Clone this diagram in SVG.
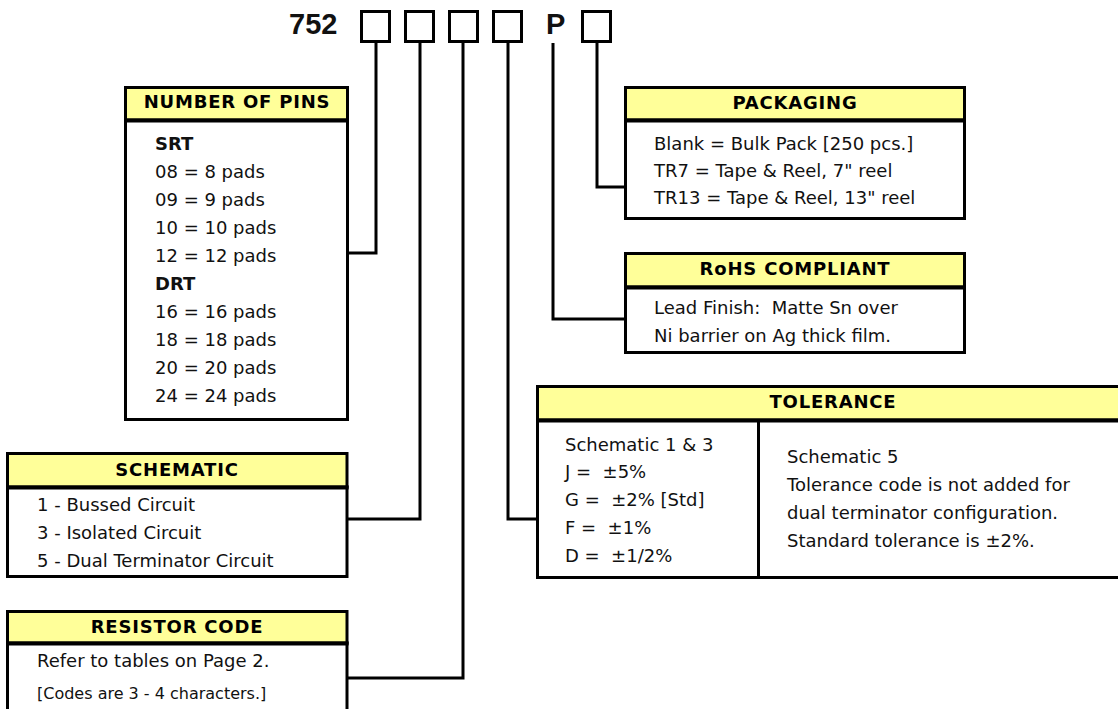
<svg xmlns="http://www.w3.org/2000/svg" width="1118" height="709" viewBox="0 0 1118 709">
<style>
.box{fill:#fff;stroke:#000;stroke-width:3}
.hdr{fill:#FFFF99;stroke:#000;stroke-width:3}
.sep{stroke:#000;stroke-width:4}
.slot{fill:#fff;stroke:#000;stroke-width:3}
.conn{fill:none;stroke:#000;stroke-width:3;stroke-linejoin:miter}
.h{font-family:"DejaVu Sans",sans-serif;font-weight:bold;font-size:18px;letter-spacing:0.8px;text-anchor:middle;fill:#000}
.t{font-family:"DejaVu Sans",sans-serif;font-size:18px;fill:#111;white-space:pre}
.tb{font-family:"DejaVu Sans",sans-serif;font-size:18px;font-weight:bold;fill:#111}
.ts{font-family:"DejaVu Sans",sans-serif;font-size:16px;fill:#111}
.big{font-family:"Liberation Sans",Arial,sans-serif;font-weight:bold;font-size:29px;fill:#111}
</style>
<rect width="1118" height="709" fill="#fff"/>

<g id="partnumber">
<text class="big" x="289" y="34">752</text>
<rect class="slot" x="361.5" y="11.5" width="28" height="30"/>
<rect class="slot" x="405.5" y="11.5" width="28" height="30"/>
<rect class="slot" x="449.5" y="11.5" width="28" height="30"/>
<rect class="slot" x="493.5" y="11.5" width="28" height="30"/>
<text class="big" x="546" y="34">P</text>
<rect class="slot" x="582.5" y="11.5" width="28" height="30"/>
</g>

<g id="connectors">
<polyline class="conn" points="376,42 376,253 348,253"/>
<polyline class="conn" points="420,42 420,519 347,519"/>
<polyline class="conn" points="463,42 463,678 347,678"/>
<polyline class="conn" points="508,42 508,519 537,519"/>
<polyline class="conn" points="553,43 553,319 625,319"/>
<polyline class="conn" points="597,42 597,187 625,187"/>
</g>

<g id="number-of-pins">
<rect class="box" x="125.5" y="120" width="222" height="299.5"/>
<rect class="hdr" x="125.5" y="87.5" width="222" height="32.5"/>
<line class="sep" x1="124" y1="120.5" x2="349" y2="120.5"/>
<text class="h" x="237" y="108">NUMBER OF PINS</text>
<text class="tb" x="155" y="150">SRT</text>
<text class="t" x="155" y="178">08 = 8 pads</text>
<text class="t" x="155" y="206">09 = 9 pads</text>
<text class="t" x="155" y="234">10 = 10 pads</text>
<text class="t" x="155" y="262">12 = 12 pads</text>
<text class="tb" x="155" y="290">DRT</text>
<text class="t" x="155" y="318">16 = 16 pads</text>
<text class="t" x="155" y="346">18 = 18 pads</text>
<text class="t" x="155" y="374">20 = 20 pads</text>
<text class="t" x="155" y="402">24 = 24 pads</text>
</g>

<g id="schematic">
<rect class="box" x="7.5" y="487" width="339.5" height="89.5"/>
<rect class="hdr" x="7.5" y="453.5" width="339.5" height="33.5"/>
<line class="sep" x1="6" y1="487.5" x2="348.5" y2="487.5"/>
<text class="h" x="177" y="476">SCHEMATIC</text>
<text class="t" x="37" y="511">1 - Bussed Circuit</text>
<text class="t" x="37" y="539">3 - Isolated Circuit</text>
<text class="t" x="37" y="567">5 - Dual Terminator Circuit</text>
</g>

<g id="resistor-code">
<rect class="box" x="7.5" y="643" width="339.5" height="80"/>
<rect class="hdr" x="7.5" y="611.5" width="339.5" height="31.5"/>
<line class="sep" x1="6" y1="643.5" x2="348.5" y2="643.5"/>
<text class="h" x="177" y="633">RESISTOR CODE</text>
<text class="t" x="37" y="667">Refer to tables on Page 2.</text>
<text class="ts" x="37" y="699">[Codes are 3 - 4 characters.]</text>
</g>

<g id="packaging">
<rect class="box" x="625.5" y="120" width="339" height="98.5"/>
<rect class="hdr" x="625.5" y="87.5" width="339" height="32.5"/>
<line class="sep" x1="624" y1="120.5" x2="966" y2="120.5"/>
<text class="h" x="795" y="109">PACKAGING</text>
<text class="t" x="654" y="150">Blank = Bulk Pack [250 pcs.]</text>
<text class="t" x="654" y="177">TR7 = Tape &amp; Reel, 7" reel</text>
<text class="t" x="654" y="204">TR13 = Tape &amp; Reel, 13" reel</text>
</g>

<g id="rohs">
<rect class="box" x="625.5" y="287" width="339" height="65.5"/>
<rect class="hdr" x="625.5" y="253.5" width="339" height="33.5"/>
<line class="sep" x1="624" y1="287.5" x2="966" y2="287.5"/>
<text class="h" x="795" y="275">RoHS COMPLIANT</text>
<text class="t" x="654" y="314">Lead Finish:  Matte Sn over</text>
<text class="t" x="654" y="342">Ni barrier on Ag thick film.</text>
</g>

<g id="tolerance">
<rect class="box" x="537.5" y="420" width="592" height="157.5"/>
<rect class="hdr" x="537.5" y="386.5" width="592" height="33.5"/>
<line class="sep" x1="536" y1="420.5" x2="1130" y2="420.5"/>
<line class="sep" x1="758.5" y1="420" x2="758.5" y2="578" style="stroke-width:3"/>
<text class="h" x="833" y="408">TOLERANCE</text>
<text class="t" x="565" y="451">Schematic 1 &amp; 3</text>
<text class="t" x="565" y="478">J =  ±5%</text>
<text class="t" x="565" y="506">G =  ±2% [Std]</text>
<text class="t" x="565" y="534">F =  ±1%</text>
<text class="t" x="565" y="562">D =  ±1/2%</text>
<text class="t" x="787" y="463">Schematic 5</text>
<text class="t" x="787" y="491">Tolerance code is not added for</text>
<text class="t" x="787" y="519">dual terminator configuration.</text>
<text class="t" x="787" y="547">Standard tolerance is ±2%.</text>
</g>
</svg>
